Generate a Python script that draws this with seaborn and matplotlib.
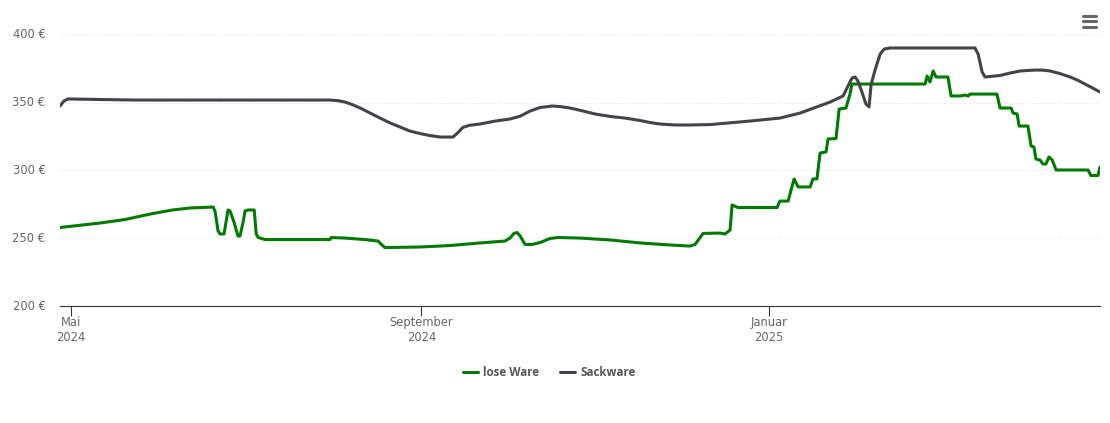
import matplotlib
matplotlib.use("Agg")
import matplotlib.pyplot as plt
import matplotlib.dates as mdates
from matplotlib.lines import Line2D
from matplotlib.transforms import ScaledTranslation
import pandas as pd
import seaborn as sns

# days counted from 1 May 2024, prices in euro
lose_days = [-3.9, 10.2, 19, 27.7, 35.5, 41.8, 49.9, 50.6, 51.6, 52.3, 53.7, 54.4, 55.1, 55.8, 57.2, 58.6, 59.3,
             60.4, 61.1, 62.1, 64.3, 65, 65.7, 68.1, 90.9, 91.3, 96.2, 103.2, 107.8, 108.8, 110.2, 122.5, 133.1,
             143.6, 152.4, 154.1, 155.5, 156.6, 157.7, 159.4, 161.9, 164.7, 168.2, 171, 178.7, 189.3, 199.8, 210.3,
             217.3, 219.1, 221.9, 227.9, 229.6, 231.4, 232.1, 234.2, 247.9, 248.9, 251.8, 252.8, 253.9, 255.3,
             259.5, 260.5, 261.9, 263, 265.1, 265.8, 268.6, 269.7, 272.1, 273.5, 274.2, 299.9, 300.6, 301.6, 302.7,
             303.7, 307.9, 309, 312.2, 313.9, 315, 315.7, 325.1, 326.2, 330.1, 330.8, 332.2, 332.9, 336, 337.1,
             338.1, 338.8, 340.2, 341.3, 342.3, 343.4, 344.5, 345.9, 357.1, 358.1, 360.6, 361.3]
lose_ware = [257.9, 261.2, 263.8, 267.8, 270.8, 272.3, 273, 269.3, 255.3, 253.1, 253.1, 261.9, 270.8, 270.1, 261.9,
             251.6, 251.6, 261.9, 270.1, 270.8, 270.8, 253.1, 250.5, 249, 249, 250.5, 250.1, 249, 247.9, 245.7,
             243.1, 243.5, 244.6, 246.5, 247.9, 250.1, 253.5, 254.2, 251.6, 245.4, 245.4, 246.8, 249.8, 250.5, 250.1,
             248.7, 246.5, 245, 244.2, 245.4, 253.5, 253.8, 253.1, 256, 274.5, 272.6, 272.6, 277.4, 277.4, 285.5,
             293.7, 287.8, 287.8, 293.7, 293.7, 312.8, 313.6, 323.2, 323.5, 345.3, 346, 356.3, 363.7, 363.7, 369.6,
             365.2, 373.3, 368.9, 368.9, 354.9, 354.9, 355.6, 354.9, 356.3, 356.3, 346, 346, 342.3, 341.6, 332.7,
             332.7, 318, 317.3, 308.4, 307.7, 304.7, 304.7, 309.9, 307.7, 300.3, 300.3, 296.2, 296.2, 302.5]

sack_days = [-3.9, -2.5, -1.1, 10.2, 22.5, 90.9, 93.8, 96.2, 98.7, 101.5, 105, 108.5, 112, 115.5, 119, 122.5, 126,
             129.6, 131.3, 134.1, 135.9, 137.6, 140, 143.6, 148.9, 154.1, 157.7, 161.2, 164.7, 166.4, 168.9, 171.7,
             175.2, 179.8, 184, 189.3, 194.5, 199.8, 203.3, 206.8, 212.1, 217.3, 224.4, 238.4, 248.9, 256, 266.5,
             271.1, 272.8, 274.2, 275.3, 276.3, 277.7, 279.1, 280.2, 280.9, 282.3, 284.1, 285.5, 287.6, 317.4, 318.5,
             319.9, 320.9, 326.2, 329.7, 333.2, 336, 338.5, 341, 343.8, 347.1, 350.8, 353.6, 356, 358.5, 361.3]
sackware = [347.5, 351.2, 352.7, 352.3, 351.9, 351.9, 351.4, 350.4, 348.6, 346, 342.3, 338.6, 335, 332, 329, 327.2, 325.7,
            324.6, 324.6, 324.6, 328, 331.8, 333.3, 334.2, 336.4, 337.9, 340, 343.8, 346.4, 346.8, 347.5, 347.1,
            346, 343.8, 341.6, 339.8, 338.6, 336.8, 335.3, 334.2, 333.5, 333.5, 333.8, 336.4, 338.6, 342.3, 350.4,
            354.9, 362.2, 368.1, 368.9, 365.9, 357.8, 349, 346.8, 363, 374, 385.8, 389.5, 390.3, 390.3, 385.8,
            372.6, 368.9, 370, 371.8, 373.3, 373.7, 374, 374, 373.3, 371.5, 368.9, 366.4, 363.7, 361, 357.8]

y_ticks = [200, 250, 300, 350, 400]
x_ticks = ["2024-05-01", "2024-09-01", "2025-01-01"]
x_labels = ["Mai\n2024", "September\n2024", "Januar\n2025"]

start = pd.Timestamp("2024-05-01")
lose_dates = start + pd.to_timedelta(lose_days, unit="D")
sack_dates = start + pd.to_timedelta(sack_days, unit="D")

sns.set_style("white")
plt.rcParams["font.family"] = ["DejaVu Sans"]

W, H = 1110, 423
fig = plt.figure(figsize=(W / 100, H / 100), dpi=100)
ax = fig.add_axes([60 / W, 1 - 306 / H, 1040 / W, 296 / H])

sns.lineplot(x=lose_dates, y=lose_ware, color="#007a00", lw=2.2, estimator=None, sort=False,
             solid_joinstyle="round", ax=ax, label="lose Ware")
sns.lineplot(x=sack_dates, y=sackware, color="#434348", lw=2.2, estimator=None, sort=False,
             solid_joinstyle="round", ax=ax, label="Sackware")

ax.set_xlim(start + pd.Timedelta(days=-3.9), start + pd.Timedelta(days=361.3))
ax.set_ylim(200, 418.3)
ax.set_xlabel("")
ax.set_ylabel("")

ax.set_yticks(y_ticks)
ax.set_yticklabels([f"{v} €" for v in y_ticks], fontsize=8.3, color="#666666")
ax.set_xticks([mdates.date2num(pd.Timestamp(d)) for d in x_ticks])
ax.set_xticklabels(x_labels, fontsize=8.3, color="#666666", linespacing=1.2)
ax.tick_params(axis="y", left=False, length=0, pad=10.5)
ax.tick_params(axis="x", bottom=True, length=7.2, width=0.8, color="#333333", pad=0)

# y labels sit a little above their grid lines
shift = ScaledTranslation(0, 1.5 / 100, fig.dpi_scale_trans)
for lbl in ax.get_yticklabels():
    lbl.set_transform(lbl.get_transform() + shift)

ax.grid(axis="y", color="#dddddd", lw=0.7, ls=(0, (1, 2)))
ax.set_axisbelow(True)
for side in ["top", "left", "right"]:
    ax.spines[side].set_visible(False)
ax.spines["bottom"].set_color("#333333")
ax.spines["bottom"].set_linewidth(0.8)

ax.legend(loc="center", bbox_to_anchor=(549.5 / W, 1 - 372.5 / H), bbox_transform=fig.transFigure, ncol=2,
          frameon=False, handlelength=1.29, handletextpad=0.43, columnspacing=1.8, borderpad=0,
          prop={"family": "Open Sans", "size": 8.4, "weight": "bold"}, labelcolor="#555555")

# export menu icon
for py in [16, 21.5, 26.8]:
    fig.add_artist(Line2D([1082.5 / W, 1095.5 / W], [1 - py / H, 1 - py / H], color="#666666", lw=2.2,
                          solid_capstyle="round"))

fig.savefig("out.png", dpi=100)
